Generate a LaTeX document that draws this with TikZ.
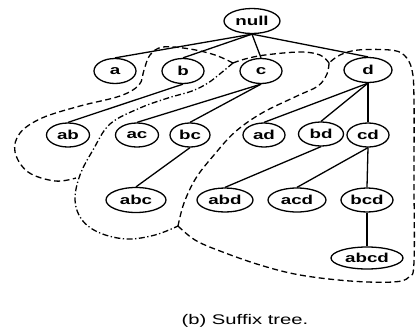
\documentclass[tikz,border=0pt]{standalone}
\usepackage{fontspec}
\setmainfont[FakeStretch=1.45]{Liberation Sans}
\usetikzlibrary{shapes.geometric}
\begin{document}
\begin{tikzpicture}[x=1bp,y=-1bp,
  nd/.style={draw, ellipse, line width=1.3bp, inner sep=0pt, minimum height=25bp,
    font=\fontsize{13}{13}\selectfont\bfseries},
  edge/.style={line width=1.3bp},
  dsh/.style={line width=1.3bp, dash pattern=on 6bp off 3.5bp},
  dshdot/.style={line width=1.3bp, dash pattern=on 6bp off 2.5bp on 1.3bp off 2.5bp}]
\useasboundingbox (0,0) rectangle (417,333);

\node[nd,minimum width=56bp] (null) at (252,21) {null};
\node[nd,minimum width=42bp] (a) at (115,71) {a};
\node[nd,minimum width=42bp] (b) at (183,71) {b};
\node[nd,minimum width=42bp] (c) at (261,71) {c};
\node[nd,minimum width=48bp] (d) at (368,70) {d};
\node[nd,minimum width=43bp,minimum height=24bp] (ab) at (68,135) {ab};
\node[nd,minimum width=43bp,minimum height=24bp] (ac) at (137,135) {ac};
\node[nd,minimum width=40bp,minimum height=24bp] (bc) at (190,135) {bc};
\node[nd,minimum width=42bp,minimum height=24bp] (ad) at (264,135) {ad};
\node[nd,minimum width=45bp,minimum height=24bp] (bd) at (321,134) {bd};
\node[nd,minimum width=42bp,minimum height=24bp] (cd) at (368,135) {cd};
\node[nd,minimum width=60bp] (abc) at (136,200) {abc};
\node[nd,minimum width=56bp,minimum height=24bp] (abd) at (225,200) {abd};
\node[nd,minimum width=58bp,minimum height=24bp] (acd) at (297,200) {acd};
\node[nd,minimum width=52bp,minimum height=24bp] (bcd) at (367,200) {bcd};
\node[nd,minimum width=72bp,minimum height=22bp] (abcd) at (367,258) {abcd};

\node[font=\fontsize{14}{14}\selectfont] (cap) at (245,321) {(b) Suffix tree.};

\draw[edge] (null.south) -- (a.north);
\draw[edge] (null.south) -- (b.north);
\draw[edge] (null.south) -- (c.north);
\draw[edge] (null.south) -- (d.north);
\draw[edge] (b.south) -- (ab.north);
\draw[edge] (c.south) -- (ac.north);
\draw[edge] (c.south) -- (bc.north);
\draw[edge] (bc.south) -- (abc.north);
\draw[edge] (d.south) -- (ad.north);
\draw[edge] (d.south) -- (bd.north);
\draw[edge] (d.south) -- (cd.north);
\draw[edge] (bd.south) -- (abd.north);
\draw[edge] (cd.south) -- (acd.north);
\draw[edge] (cd.south) -- (bcd.north);
\draw[edge] (bcd.south) -- (abcd.north);

% contours
\draw[dsh] plot[smooth, tension=0.6] coordinates {(233,63) (215,55) (190,49) (163,47) (150,55) (144,70) (139,85) (120,96) (80,106) (42,118) (20,133) (15,152) (28,172) (55,181) (76,178)};
\draw[dshdot] plot[smooth, tension=0.6] coordinates {(233,63) (221,73) (208,83) (192,91) (168,98) (140,108) (110,124) (93,150) (80,175) (75,200) (82,220) (100,233) (127,239) (155,235) (178,226)};
\draw[dsh] plot[smooth, tension=0.6] coordinates {(233,63) (245,59) (265,55) (300,52) (320,55) (329,63)};
\draw[dsh] plot[smooth, tension=0.6] coordinates {(329,63) (327,74) (318,86) (297,96) (262,113) (235,132) (214,155) (196,178) (184,203) (178,226)};
\draw[dsh] plot[smooth, tension=0.6] coordinates {(178,226) (195,240) (220,251) (260,265) (300,275) (350,281) (393,282) (409,277) (414,262) (414,180) (414,100) (412,70) (404,55) (390,50) (358,50) (340,55) (329,63)};
\end{tikzpicture}
\end{document}
